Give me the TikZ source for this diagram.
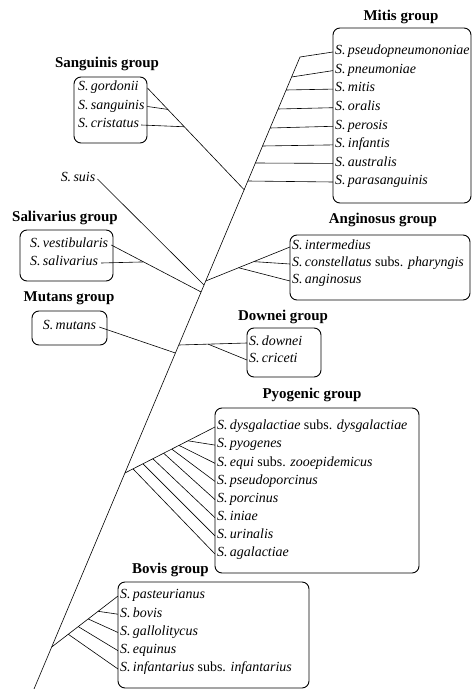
\documentclass[tikz,border=0pt]{standalone}
\usepackage{fontspec}
\setmainfont{Liberation Serif}
\usetikzlibrary{calc}

\newcommand{\strep}[1]{\textit{S.\,#1}}

\begin{document}
\begin{tikzpicture}[x=1bp, y=-1bp,
  grp/.style={font=\fontsize{15}{17}\selectfont\bfseries, inner sep=0pt},
  grpbox/.style={draw, rounded corners=7bp, line width=0.9bp},
  spc/.style={font=\fontsize{14}{16}\selectfont, inner xsep=2bp, inner ysep=0pt,
              text height=1.5ex, text depth=.25ex},
  branch/.style={line width=0.6bp}
]
\useasboundingbox (0,0) rectangle (472,689);

% group boxes
\node[grpbox, minimum width=138bp, minimum height=175bp] (mitisbox) at (402,115.5) {};
\node[grpbox, minimum width=73bp, minimum height=66bp]   (sangbox)  at (110.5,110) {};
\node[grpbox, minimum width=93bp, minimum height=51bp]   (salbox)   at (66.5,255.5) {};
\node[grpbox, minimum width=75bp, minimum height=34bp]   (mutbox)   at (69.5,328) {};
\node[grpbox, minimum width=180bp, minimum height=65bp]  (angbox)   at (380,267.5) {};
\node[grpbox, minimum width=74bp, minimum height=49bp]   (dowbox)   at (284,352.5) {};
\node[grpbox, minimum width=204bp, minimum height=165bp] (pyobox)   at (317,490.5) {};
\node[grpbox, minimum width=191bp, minimum height=106bp] (bovbox)   at (213.5,635) {};

% group titles
\node[grp] (mitislbl) at (401,17)    {Mitis\ group};
\node[grp] (sanglbl)  at (107,64)    {Sanguinis\ group};
\node[grp] (sallbl)   at (65,218)    {Salivarius\ group};
\node[grp] (mutlbl)   at (69,298)    {Mutans\ group};
\node[grp] (anglbl)   at (383,220)   {Anginosus\ group};
\node[grp] (dowlbl)   at (283,317)   {Downei\ group};
\node[grp] (pyolbl)   at (312,395)   {Pyogenic\ group};
\node[grp] (bovlbl)   at (170.5,570) {Bovis\ group};

% species
\node[spc, anchor=west] (pseudo)  at (333,52)    {\strep{pseudopneumononiae}};
\node[spc, anchor=west] (pneumo)  at (333,70.6)  {\strep{pneumoniae}};
\node[spc, anchor=west] (mitis)   at (333,89.1)  {\strep{mitis}};
\node[spc, anchor=west] (oralis)  at (333,107.7) {\strep{oralis}};
\node[spc, anchor=west] (perosis) at (333,126.3) {\strep{perosis}};
\node[spc, anchor=west] (infant)  at (333,144.9) {\strep{infantis}};
\node[spc, anchor=west] (austr)   at (333,163.4) {\strep{australis}};
\node[spc, anchor=west] (parasg)  at (333,182)   {\strep{parasanguinis}};

\node[spc, anchor=west] (gordonii) at (76,88)    {\strep{gordonii}};
\node[spc, anchor=west] (sangs)    at (76,106.5) {\strep{sanguinis}};
\node[spc, anchor=west] (crist)    at (76,125)   {\strep{cristatus}};

\node[spc] (suis) at (78,179) {\strep{suis}};

\node[spc, anchor=west, inner xsep=3bp] (vestib) at (27,245) {\strep{vestibularis}};
\node[spc, anchor=west, inner xsep=3bp] (saliv)  at (27,263) {\strep{salivarius}};

\node[spc, inner xsep=3bp] (mutans) at (69.5,327) {\strep{mutans}};

\node[spc, anchor=west] (intermed) at (290,247) {\strep{intermedius}};
\node[spc, anchor=west] (constel)  at (290,264) {\strep{constellatus} subs. \textit{pharyngis}};
\node[spc, anchor=west] (angin)    at (290,281) {\strep{anginosus}};

\node[spc, anchor=west] (downei)  at (247,343) {\strep{downei}};
\node[spc, anchor=west] (criceti) at (247,360) {\strep{criceti}};

\node[spc, anchor=west] (dysgal)  at (215,427)   {\strep{dysgalactiae} subs. \textit{dysgalactiae}};
\node[spc, anchor=west] (pyogen)  at (215,445.1) {\strep{pyogenes}};
\node[spc, anchor=west] (equi)    at (215,463.3) {\strep{equi} subs. \textit{zooepidemicus}};
\node[spc, anchor=west] (pseudop) at (215,481.4) {\strep{pseudoporcinus}};
\node[spc, anchor=west] (porcin)  at (215,499.6) {\strep{porcinus}};
\node[spc, anchor=west] (iniae)   at (215,517.7) {\strep{iniae}};
\node[spc, anchor=west] (urinal)  at (215,535.9) {\strep{urinalis}};
\node[spc, anchor=west] (agalac)  at (215,554)   {\strep{agalactiae}};

\node[spc, anchor=west] (pasteur) at (118,596)   {\strep{pasteurianus}};
\node[spc, anchor=west] (bovis)   at (118,614.2) {\strep{bovis}};
\node[spc, anchor=west] (gallo)   at (118,632.5) {\strep{gallolitycus}};
\node[spc, anchor=west] (equin)   at (118,650.7) {\strep{equinus}};
\node[spc, anchor=west] (infantar) at (118,669)  {\strep{infantarius} subs. \textit{infantarius}};

% trunk and its nodes
\coordinate (root) at (34,689);
\coordinate (m1) at (300,57);
\coordinate (m2) at (291.6,77);
\coordinate (m3) at (286.1,90);
\coordinate (m4) at (278.1,109);
\coordinate (m5) at (270.1,128);
\coordinate (m6) at (262.5,146);
\coordinate (m7) at (255.4,163);
\coordinate (m8) at (247.8,181);
\coordinate (sg) at (244.4,190);
\coordinate (an) at (205.7,281);
\coordinate (su) at (204,285);
\coordinate (sv) at (201.1,292);
\coordinate (dn) at (178.8,345);
\coordinate (mu) at (175.4,353);
\coordinate (py) at (124.9,473);
\coordinate (bo) at (51.7,647);
\draw[branch] (root) -- (m1);

% Mitis
\draw[branch] (m1) -- (pseudo.west);
\draw[branch] (m2) -- (pneumo.west);
\draw[branch] (m3) -- (mitis.west);
\draw[branch] (m4) -- (oralis.west);
\draw[branch] (m5) -- (perosis.west);
\draw[branch] (m6) -- (infant.west);
\draw[branch] (m7) -- (austr.west);
\draw[branch] (m8) -- (parasg.west);

% Sanguinis
\draw[branch] (sg) -- (gordonii -| sangbox.east);
\draw[branch] ($(sg)!0.79!(gordonii -| sangbox.east)$) -- (sangs -| sangbox.east);
\draw[branch] ($(sg)!0.62!(gordonii -| sangbox.east)$) -- (crist.east);

% S. suis, Salivarius
\draw[branch] (su) -- (suis.east);
\draw[branch] (sv) -- (vestib.east);
\draw[branch] ($(sv)!0.64!(vestib.east)$) -- (saliv.east);

% Anginosus
\draw[branch] (an) -- (intermed.west);
\draw[branch] ($(an)!0.57!(intermed.west)$) -- (constel.west);
\draw[branch] ($(an)!0.39!(intermed.west)$) -- (angin.west);

% Mutans, Downei
\draw[branch] (mu) -- (mutans.east);
\draw[branch] (dn) -- (downei.west);
\draw[branch] ($(dn)!0.43!(downei.west)$) -- (criceti.west);

% Pyogenic
\draw[branch] (py) -- (dysgal.west);
\draw[branch] ($(py)!0.70!(dysgal.west)$) -- (pyogen.west);
\draw[branch] ($(py)!0.60!(dysgal.west)$) -- (equi.west);
\draw[branch] ($(py)!0.52!(dysgal.west)$) -- (pseudop.west);
\draw[branch] ($(py)!0.43!(dysgal.west)$) -- (porcin.west);
\draw[branch] ($(py)!0.31!(dysgal.west)$) -- (iniae.west);
\draw[branch] ($(py)!0.20!(dysgal.west)$) -- (urinal.west);
\draw[branch] ($(py)!0.09!(dysgal.west)$) -- (agalac.west);

% Bovis
\draw[branch] (bo) -- (pasteur.west);
\draw[branch] ($(bo)!0.70!(pasteur.west)$) -- (bovis.west);
\draw[branch] ($(bo)!0.55!(pasteur.west)$) -- (gallo.west);
\draw[branch] ($(bo)!0.40!(pasteur.west)$) -- (equin.west);
\draw[branch] ($(bo)!0.25!(pasteur.west)$) -- (infantar.west);
\end{tikzpicture}
\end{document}
